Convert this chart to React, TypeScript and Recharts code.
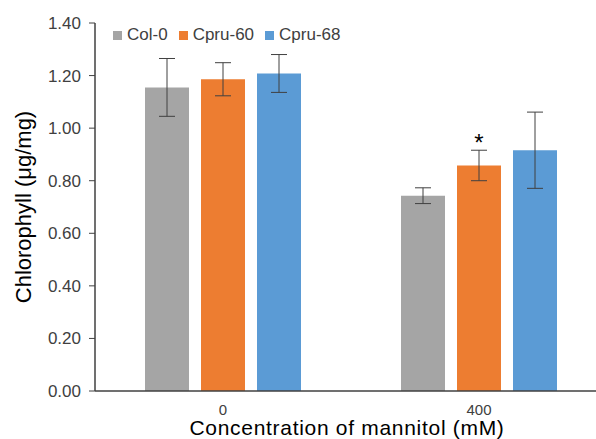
import { BarChart, Bar, XAxis, YAxis, ErrorBar, LabelList } from 'recharts'

const concentrations = ['0', '400']
const col0 = [1.155, 0.743]
const col0Err = [0.11, 0.03]
const cpru60 = [1.186, 0.858]
const cpru60Err = [0.063, 0.058]
const cpru68 = [1.208, 0.916]
const cpru68Err = [0.072, 0.145]
const significance = ['', '*']
const yTicks = [0, 0.2, 0.4, 0.6, 0.8, 1.0, 1.2, 1.4]

const series = [
  { key: 'col0', name: 'Col-0', color: '#A5A5A5' },
  { key: 'cpru60', name: 'Cpru-60', color: '#ED7D31' },
  { key: 'cpru68', name: 'Cpru-68', color: '#5B9BD5' },
]

const data = concentrations.map((c, i) => ({
  conc: c,
  col0: col0[i],
  col0Err: col0Err[i],
  cpru60: cpru60[i],
  cpru60Err: cpru60Err[i],
  cpru68: cpru68[i],
  cpru68Err: cpru68Err[i],
  sig: significance[i],
}))

const font = '"Liberation Sans", Arial, sans-serif'

const renderStar = (props: any) => {
  const { x, y, width, value } = props
  if (!value) return null
  return (
    <text x={x + width / 2} y={y - 14} textAnchor="middle" fontSize={24} fontFamily={font} fill="#000">
      {value}
    </text>
  )
}

// rotated y title, centred on the plot height
const renderYLabel = (props: any) => {
  const { viewBox } = props
  const cx = viewBox.x + 23
  const cy = viewBox.y + viewBox.height / 2
  return (
    <text
      x={cx}
      y={cy}
      transform={`rotate(-90 ${cx} ${cy})`}
      textAnchor="middle"
      dominantBaseline="central"
      fontSize={22}
      fontFamily={font}
      fill="#000"
    >
      Chlorophyll (μg/mg)
    </text>
  )
}

export default function App() {
  return (
    <div style={{ position: 'absolute', left: 0, top: 0, width: 596, height: 439, overflow: 'hidden', background: '#fff', fontFamily: font }}>
      <BarChart
        width={640}
        height={439}
        data={data}
        margin={{ top: 23, right: 33, left: 0, bottom: 0 }}
        barGap={12}
        barCategoryGap={50}
        style={{ fontFamily: font }}
      >
        <XAxis
          dataKey="conc"
          tickLine={false}
          axisLine={{ stroke: '#404040', strokeWidth: 1.5 }}
          tick={{ fontSize: 15, fill: '#404040' }}
          tickMargin={7}
          height={48}
          label={{ value: 'Concentration of mannitol (mM)', position: 'insideBottom', offset: 4, fontSize: 21, letterSpacing: 0.7, fill: '#000', dx: -4 }}
        />
        <YAxis
          width={95}
          domain={[0, 1.4]}
          ticks={yTicks}
          tickFormatter={(v: number) => v.toFixed(2)}
          tick={{ fontSize: 17, fill: '#404040' }}
          tickSize={6}
          tickMargin={8}
          tickLine={{ stroke: '#404040' }}
          axisLine={{ stroke: '#404040', strokeWidth: 1.5 }}
          interval={0}
          label={{ content: renderYLabel }}
        />
        {series.map((s) => (
          <Bar key={s.key} dataKey={s.key} name={s.name} fill={s.color} barSize={44} isAnimationActive={false}>
            <ErrorBar dataKey={s.key + 'Err'} width={8} stroke="#404040" strokeWidth={1} />
            {s.key === 'cpru60' && <LabelList dataKey="sig" content={renderStar} />}
          </Bar>
        ))}
      </BarChart>
      <div style={{ position: 'absolute', left: 113, top: 25, display: 'flex', alignItems: 'center', fontSize: 17, color: '#404040' }}>
        {series.map((s) => (
          <div key={s.key} style={{ display: 'flex', alignItems: 'center', marginRight: 11 }}>
            <span style={{ display: 'inline-block', width: 9, height: 9, background: s.color, marginRight: 5 }} />
            <span>{s.name}</span>
          </div>
        ))}
      </div>
    </div>
  )
}
